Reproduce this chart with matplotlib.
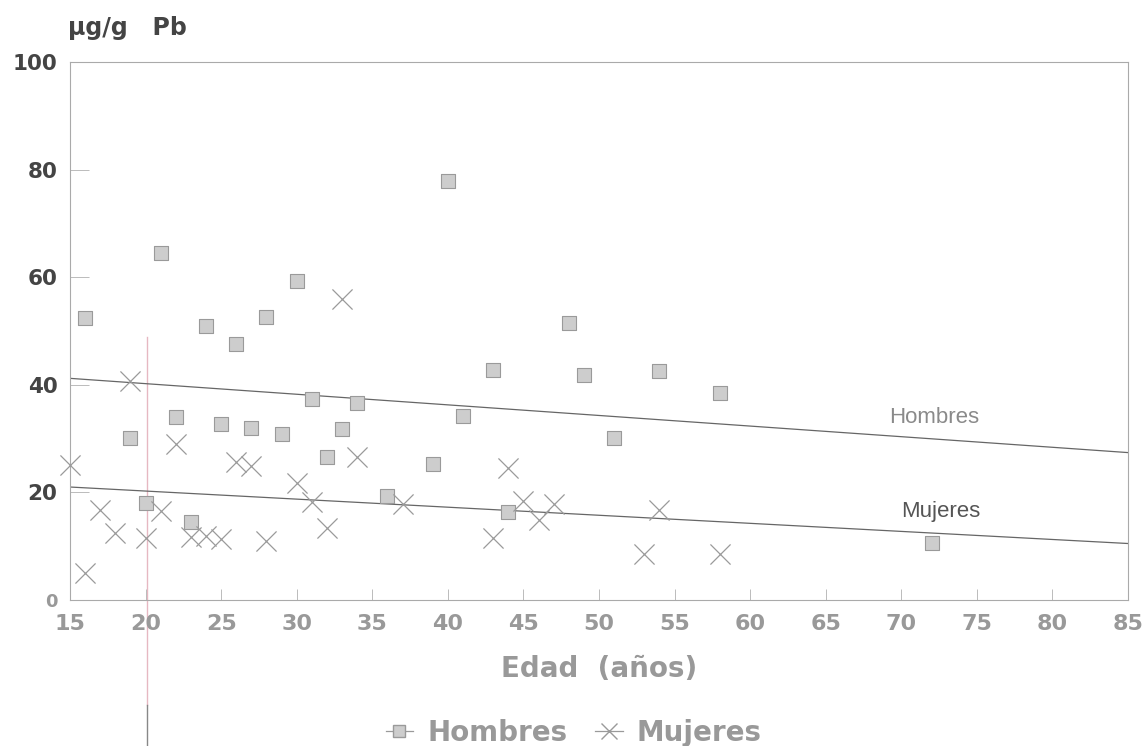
import matplotlib.pyplot as plt
from matplotlib.lines import Line2D

plt.rcParams['font.family'] = ['DejaVu Sans']

# Hombres (edad, ug/g Pb)
hombres_edad = [16, 19, 20, 21, 22, 23, 24, 25, 26, 27, 28, 29, 30, 31, 32, 33, 34,
                36, 39, 40, 41, 43, 44, 48, 49, 51, 54, 58, 72]
hombres_pb = [52.4, 30.1, 18.0, 64.5, 34.0, 14.5, 51.0, 32.7, 47.6, 32.0, 52.6, 30.9,
              59.3, 37.4, 26.6, 31.8, 36.6, 19.3, 25.3, 77.8, 34.2, 42.8, 16.4, 51.5,
              41.8, 30.1, 42.6, 38.5, 10.6]

# Mujeres
mujeres_edad = [15, 16, 17, 18, 19, 20, 21, 22, 23, 24, 25, 26, 27, 28, 30, 31, 32,
                33, 34, 37, 43, 44, 45, 46, 47, 53, 54, 58]
mujeres_pb = [25.1, 5.0, 16.7, 12.5, 40.7, 11.5, 16.5, 29.0, 11.8, 11.9, 11.3, 25.6,
              24.9, 11.0, 21.8, 18.2, 13.4, 56.0, 26.6, 17.8, 11.5, 24.5, 18.4, 14.9,
              17.8, 8.6, 16.7, 8.6]

# regression lines, read at the ends of the axis
recta_edad = [15, 85]
recta_hombres = [41.2, 27.4]
recta_mujeres = [21.0, 10.5]

xticks = list(range(15, 90, 5))
yticks = [0, 20, 40, 60, 80, 100]

fig = plt.figure(figsize=(11.45, 7.46), dpi=100)
ax = fig.add_axes([70 / 1145, 1 - 600 / 746, (1128 - 70) / 1145, (600 - 62) / 746])

ax.plot(recta_edad, recta_hombres, color='#666666', lw=0.9, zorder=2)
ax.plot(recta_edad, recta_mujeres, color='#666666', lw=0.9, zorder=2)

ax.scatter(hombres_edad, hombres_pb, marker='s', s=110, facecolor='#cdcdcd',
           edgecolor='#9a9a9a', linewidth=0.8, zorder=3)
ax.scatter(mujeres_edad, mujeres_pb, marker='x', s=210, color='#9a9a9a',
           linewidth=0.9, zorder=3, clip_on=False)

ax.text(72.2, 34.0, 'Hombres', fontsize=16, family='Liberation Sans', color='#8a8a8a',
        ha='center', va='center')
ax.text(72.6, 16.5, 'Mujeres', fontsize=16, family='Liberation Sans', color='#555555',
        ha='center', va='center')

# scanning artefact: thin vertical line near x=20 (pink, grey at the bottom)
ax.plot([20.1, 20.1], [0.489, -0.195], transform=ax.get_xaxis_transform(),
        color='#e6b8c2', lw=1.0, clip_on=False, zorder=1)
ax.plot([20.1, 20.1], [-0.195, -0.27], transform=ax.get_xaxis_transform(),
        color='#888888', lw=1.0, clip_on=False, zorder=1)

ax.set_xlim(15, 85)
ax.set_ylim(0, 100)
ax.set_xticks(xticks)
ax.set_yticks(yticks)
ax.set_xticklabels([str(t) for t in xticks], fontsize=16, fontweight='bold', color='#999999')
ax.set_yticklabels([str(t) for t in yticks], fontsize=15.5, fontweight='bold', color='#444444')
ax.get_yticklabels()[0].set_color('#999999')
ax.get_yticklabels()[0].set_fontsize(13)
ax.tick_params(axis='x', direction='in', length=8, width=0.7, color='#bbbbbb', pad=10)
ax.tick_params(axis='y', direction='in', length=14, width=0.7, color='#bbbbbb', pad=9)

for s in ax.spines.values():
    s.set_color('#aaaaaa')
    s.set_linewidth(0.8)

fig.text(68 / 1145, 1 - 28 / 746, 'µg/g   Pb', fontsize=17, fontweight='bold',
         color='#444444', va='center', ha='left')
ax.set_xlabel('Edad  (años)', fontsize=20, fontweight='bold', color='#999999')
ax.xaxis.set_label_coords(0.5, -(669 - 600) / 538)
ax.xaxis.label.set_va('center')

handles = [
    Line2D([], [], color='#9a9a9a', marker='s', markersize=9, markerfacecolor='#cdcdcd',
           markeredgecolor='#9a9a9a', lw=0.9),
    Line2D([], [], color='#9a9a9a', marker='x', markersize=11, lw=0.9),
]
leg = fig.legend(handles, ['Hombres', 'Mujeres'], loc='center', bbox_to_anchor=(0.501, 0.0174),
                 ncol=2, frameon=False, handlelength=1.0, handletextpad=0.5, columnspacing=1.0,
                 borderpad=0, prop={'size': 20, 'weight': 'bold'})
for t in leg.get_texts():
    t.set_color('#999999')

fig.savefig('out.png', dpi=100)
